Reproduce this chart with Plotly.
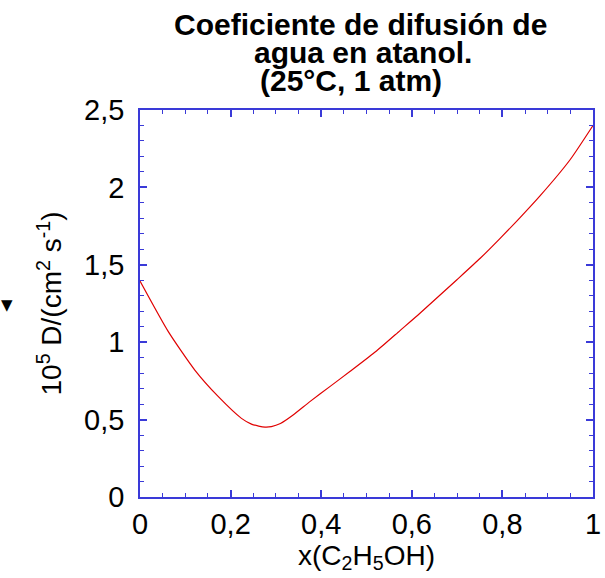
import plotly.graph_objects as go

# Data
x_frac = [0, 0.0625, 0.121, 0.173, 0.224, 0.246, 0.262, 0.276, 0.29, 0.31, 0.338, 0.375, 0.419,
          0.464, 0.522, 0.574, 0.618, 0.699, 0.751, 0.795, 0.839, 0.883, 0.949, 1.0]
d_vals = [1.395, 1.068, 0.82, 0.648, 0.508, 0.471, 0.458, 0.452, 0.455, 0.475, 0.53, 0.616, 0.713,
          0.812, 0.943, 1.075, 1.187, 1.402, 1.542, 1.671, 1.805, 1.945, 2.177, 2.40]

title_lines = ["Coeficiente de difusión de", "agua en atanol.", "(25°C, 1 atm)"]
x_title = "x(C<sub>2</sub>H<sub>5</sub>OH)"
y_title = "10<sup>5</sup> D/(cm<sup>2</sup> s<sup>-1</sup>)"

W, H = 605, 578
ML, MR, MT, MB = 140, 12, 110, 81
FONT = "Liberation Sans, Arial, Helvetica, sans-serif"
AX = "#3a3ad8"

fig = go.Figure()
fig.add_trace(go.Scatter(x=x_frac, y=d_vals, mode="lines",
                         line=dict(color="#e00000", width=1.2, shape="spline", smoothing=0.6),
                         showlegend=False, hoverinfo="skip"))
# invisible trace to activate mirrored axes (top/right) carrying ticks
fig.add_trace(go.Scatter(x=[x_frac[0]], y=[d_vals[0]], xaxis="x2", yaxis="y2", mode="markers",
                         marker=dict(opacity=0), showlegend=False, hoverinfo="skip"))

tick_common = dict(showgrid=False, zeroline=False, showline=True, linecolor=AX, linewidth=1.5,
                   ticks="inside", tickcolor=AX, tickwidth=1.5, ticklen=7, automargin=False,
                   tickfont=dict(family=FONT, size=29, color="black"))

fig.update_layout(
    xaxis=dict(range=[0, 1], dtick=0.2, tick0=0,
               minor=dict(dtick=0.05, ticks="inside", ticklen=4, tickcolor=AX, tickwidth=1.2),
               title=dict(text=x_title, font=dict(family=FONT, size=28, color="black"), standoff=4),
               ticklabelstandoff=0, **tick_common),
    yaxis=dict(range=[0, 2.5], dtick=0.5, tick0=0,
               minor=dict(dtick=0.1, ticks="inside", ticklen=4, tickcolor=AX, tickwidth=1.2),
               title=dict(text=y_title, font=dict(family=FONT, size=28, color="black"), standoff=14),
               ticklabelstandoff=8, **tick_common),
    xaxis2=dict(range=[0, 1], dtick=0.2, tick0=0, overlaying="x", side="top", anchor="y",
                showticklabels=False,
                minor=dict(dtick=0.05, ticks="inside", ticklen=4, tickcolor=AX, tickwidth=1.2),
                **tick_common),
    yaxis2=dict(range=[0, 2.5], dtick=0.5, tick0=0, overlaying="y", side="right", anchor="x",
                showticklabels=False,
                minor=dict(dtick=0.1, ticks="inside", ticklen=4, tickcolor=AX, tickwidth=1.2),
                **tick_common),
)

# title lines as separate annotations (tight leading as in the reference)
centers_px = [(360, 25), (363, 53), (351, 81)]
for txt, (cx, cy) in zip(title_lines, centers_px):
    fig.add_annotation(text="<b>" + txt + "</b>", xref="paper", yref="paper",
                       x=(cx - ML) / (W - ML - MR), y=(H - MB - cy) / (H - MT - MB),
                       xanchor="center", yanchor="middle", showarrow=False,
                       font=dict(family=FONT, size=30, color="black"))

# small black marker at left edge
fig.add_annotation(text="▼", xref="paper", yref="paper",
                   x=(7 - ML) / (W - ML - MR), y=(H - MB - 305) / (H - MT - MB),
                   xanchor="center", yanchor="middle", showarrow=False,
                   font=dict(family="DejaVu Sans", size=15, color="black"))

fig.update_layout(width=W, height=H, margin=dict(l=ML, r=MR, t=MT, b=MB, autoexpand=False),
                  paper_bgcolor="white", plot_bgcolor="white", separators=", ",
                  font=dict(family=FONT, color="black"))

fig.write_html("out.html")
